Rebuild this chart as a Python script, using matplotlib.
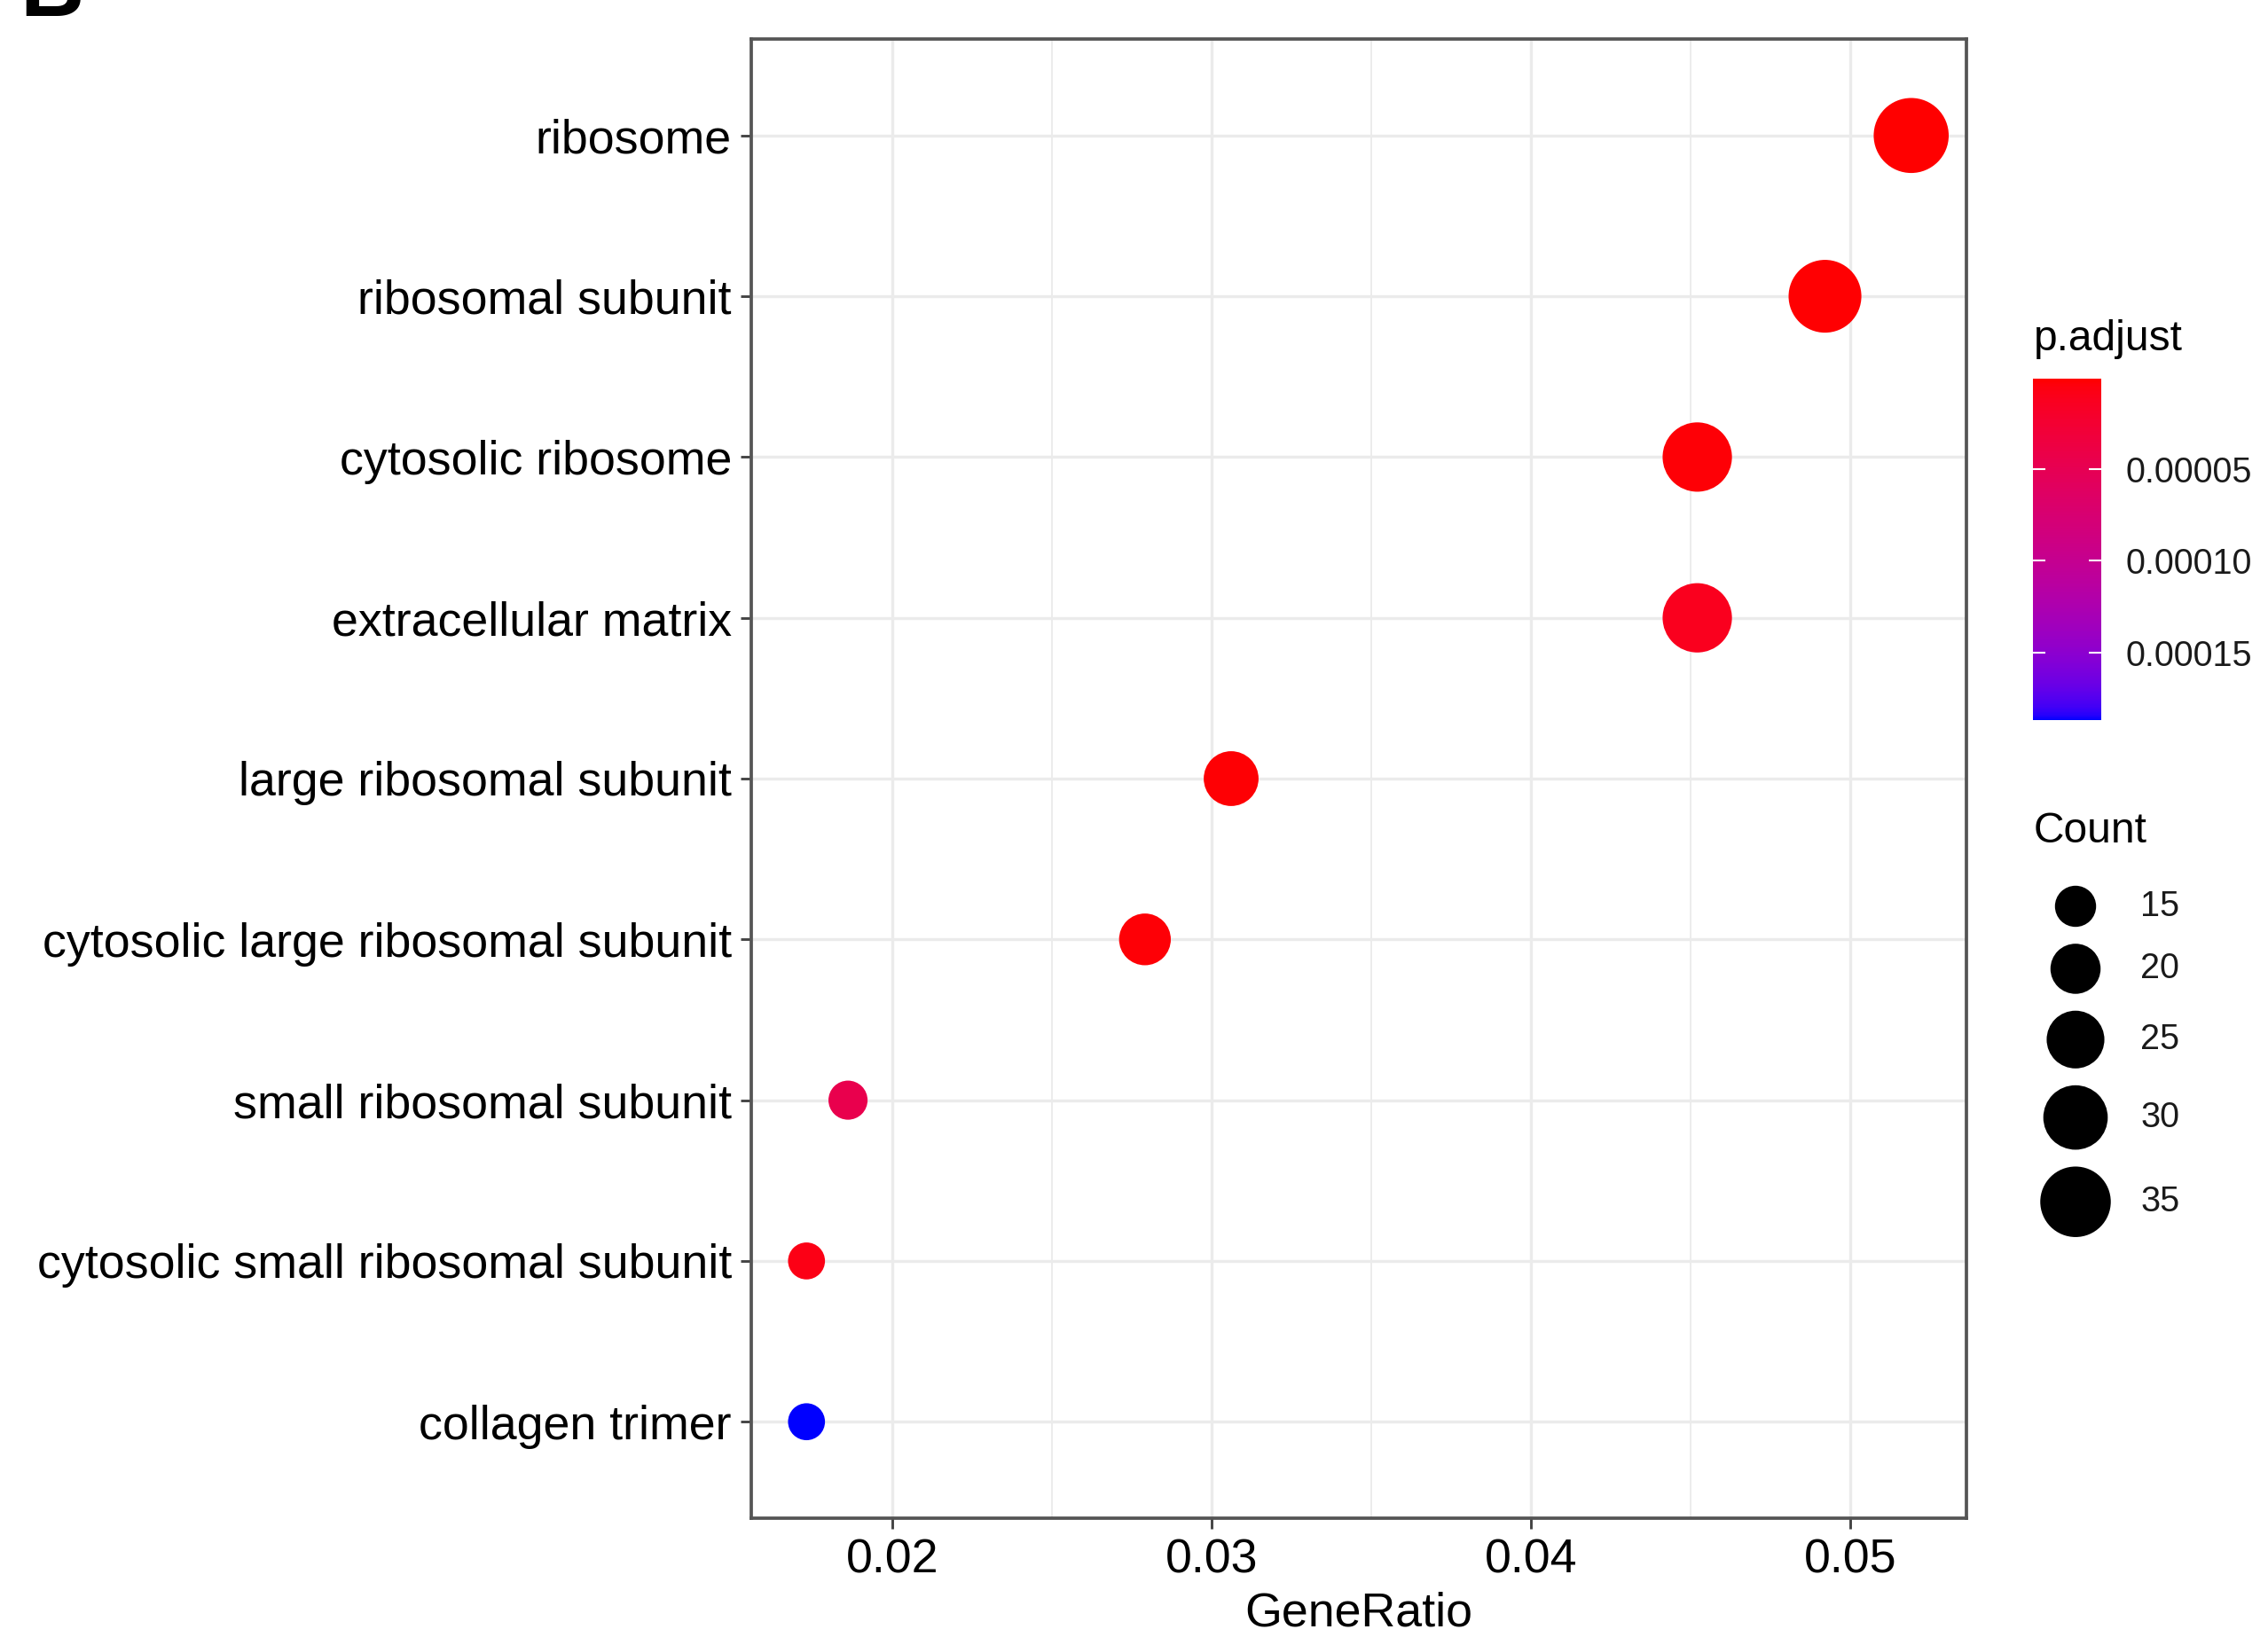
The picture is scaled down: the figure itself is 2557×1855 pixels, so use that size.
import numpy as np
import matplotlib
matplotlib.use('Agg')
import matplotlib.pyplot as plt
from matplotlib.colors import ListedColormap, Normalize

plt.rcParams['font.family'] = ['Liberation Sans', 'DejaVu Sans']

# GO cellular component enrichment, listed top to bottom as in the figure
terms = ["ribosome", "ribosomal subunit", "cytosolic ribosome", "extracellular matrix",
         "large ribosomal subunit", "cytosolic large ribosomal subunit",
         "small ribosomal subunit", "cytosolic small ribosomal subunit", "collagen trimer"]
gene_ratio = [0.0519, 0.0492, 0.0452, 0.0452, 0.0306, 0.0279, 0.0186, 0.0173, 0.0173]
counts = [39, 37, 34, 34, 23, 21, 14, 13, 13]
p_adjust = [6.0e-7, 1.5e-6, 3.0e-6, 1.2e-5, 2.0e-6, 3.0e-6, 4.5e-5, 8.0e-6, 1.87e-4]

x_ticks = [0.02, 0.03, 0.04, 0.05]
x_minor = [0.025, 0.035, 0.045]
p_breaks = [0.00005, 0.00010, 0.00015]
p_labels = ["0.00005", "0.00010", "0.00015"]
count_breaks = [15, 20, 25, 30, 35]


# red -> blue gradient interpolated in CIE Lab (like ggplot's scale_colour_gradient)
M = np.array([[0.4124, 0.3576, 0.1805], [0.2126, 0.7152, 0.0722], [0.0193, 0.1192, 0.9505]])
WHITE = np.array([0.95047, 1.0, 1.08883])
E = 6 / 29


def to_lab(rgb):
    c = np.asarray(rgb, float)
    lin = np.where(c <= 0.04045, c / 12.92, ((c + 0.055) / 1.055) ** 2.4)
    xyz = M @ lin / WHITE
    f = np.where(xyz > E ** 3, np.cbrt(xyz), xyz / (3 * E ** 2) + 4 / 29)
    return np.array([116 * f[1] - 16, 500 * (f[0] - f[1]), 200 * (f[1] - f[2])])


def from_lab(lab):
    fy = (lab[0] + 16) / 116
    f = np.array([fy + lab[1] / 500, fy, fy - lab[2] / 200])
    xyz = np.where(f > E, f ** 3, 3 * E ** 2 * (f - 4 / 29)) * WHITE
    lin = np.clip(np.linalg.solve(M, xyz), 0, 1)
    return np.where(lin <= 0.0031308, 12.92 * lin, 1.055 * lin ** (1 / 2.4) - 0.055).clip(0, 1)


lab_lo, lab_hi = to_lab([1, 0, 0]), to_lab([0, 0, 1])
cmap = ListedColormap([from_lab(lab_lo + t * (lab_hi - lab_lo)) for t in np.linspace(0, 1, 300)])
norm = Normalize(vmin=min(p_adjust), vmax=max(p_adjust))

# point area grows linearly with count (diameters in pt at min / max count)
D_MIN, D_MAX = 10.0, 20.3


def dot_area(c):
    t = (np.asarray(c, float) - min(counts)) / (max(counts) - min(counts))
    return D_MIN ** 2 + t * (D_MAX ** 2 - D_MIN ** 2)


W, H = 2557, 1855
PX = 300 / 72  # pixels per point
fig = plt.figure(figsize=(W / 300, H / 300), dpi=300)
ax = fig.add_axes([847 / W, 1 - 1712 / H, (2217 - 847) / W, (1712 - 44) / H])

ypos = np.arange(len(terms))[::-1]
sc = ax.scatter(gene_ratio, ypos, s=dot_area(counts), c=p_adjust, cmap=cmap, norm=norm,
                edgecolors='none', zorder=3)

ax.margins(x=0.05)
ax.set_ylim(-0.6, len(terms) - 1 + 0.6)
ax.set_yticks(ypos, terms)
ax.set_xticks(x_ticks, [f"{v:.2f}" for v in x_ticks])
ax.set_xticks(x_minor, minor=True)
ax.set_axisbelow(True)
ax.grid(which='major', color='#EBEBEB', lw=0.8)
ax.grid(which='minor', axis='x', color='#EBEBEB', lw=0.45)
ax.tick_params(which='major', length=2.9, width=0.7, color='#444444', pad=2.4,
               labelsize=12.9, labelcolor='black')
ax.tick_params(which='minor', length=0)
for s in ax.spines.values():
    s.set_color('#555555')
    s.set_linewidth(0.9)
ax.set_xlabel("GeneRatio", fontsize=12.9, labelpad=2.5)

# colour bar legend
cax = fig.add_axes([2292 / W, 1 - 812 / H, 77 / W, 385 / H])
cb = fig.colorbar(sc, cax=cax)
cb.outline.set_visible(False)
cax.invert_yaxis()
cb.set_ticks(p_breaks, labels=p_labels)
cax.tick_params(direction='in', length=3.4, width=0.5, color='white', left=True, right=True,
                labelsize=9.5, labelcolor='#1a1a1a', pad=6.5)
cax.minorticks_off()

# text and size legend on an overlay
lax = fig.add_axes([0, 0, 1, 1])
lax.axis('off')
lax.set_xlim(0, 1)
lax.set_ylim(0, 1)
lax.text(2293 / W, 1 - 395 / H, "p.adjust", fontsize=11.5, va='baseline')
lax.text(2293 / W, 1 - 950 / H, "Count", fontsize=11.5, va='baseline')

# stack the size keys: each step is half of two neighbouring diameters plus a gap
key_d = np.sqrt(dot_area(count_breaks)) * PX
steps = (key_d[:-1] + key_d[1:]) / 2 + 19
key_px = 1022 + np.concatenate([[0], np.cumsum(steps)])
key_y = 1 - key_px / H
lax.scatter([2340 / W] * len(count_breaks), key_y, s=dot_area(count_breaks), color='black',
            edgecolors='none')
for yy, c in zip(key_y, count_breaks):
    lax.text(2413 / W, yy, str(c), fontsize=9.5, va='center', color='#1a1a1a')

# panel letter, mostly cut off at the top edge
lax.text(22 / W, 1 - 18 / H, "B", fontsize=24, fontweight='bold', va='baseline')

fig.savefig('out.png', dpi=300)
